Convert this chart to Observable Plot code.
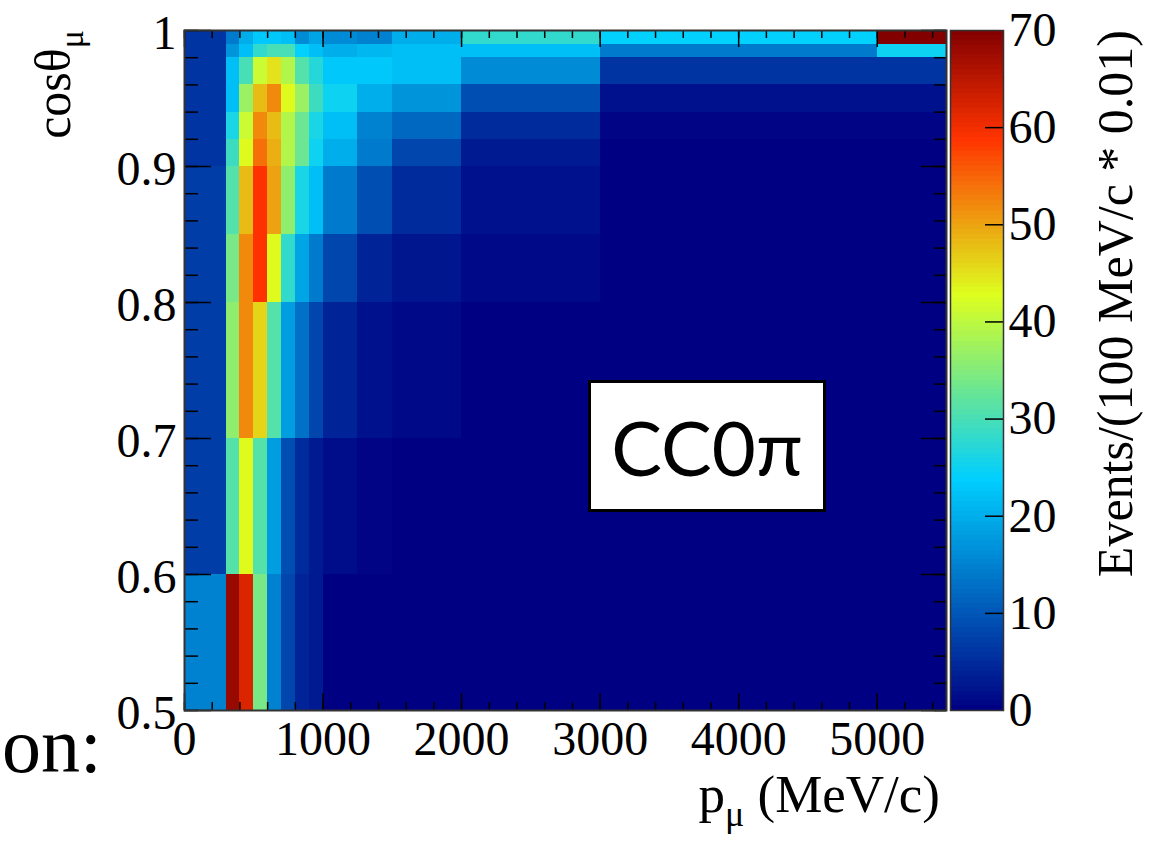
<!DOCTYPE html>
<html>
<head>
<meta charset="utf-8">
<script src="https://cdn.jsdelivr.net/npm/d3@7"></script>
<script src="https://cdn.jsdelivr.net/npm/@observablehq/plot@0.6"></script>
<style>
  html, body { margin: 0; padding: 0; background: #fff; }
  #wrap { position: relative; width: 1154px; height: 843px; overflow: hidden; background: #fff; }
  #main, #cbar { position: absolute; top: 0; }
  #main { left: 0; }
  #cbar { left: 940px; }
  #box { position: absolute; left: 588px; top: 380px; width: 232px; height: 126px;
         border: 3px solid #000; background: #fff; font-family: Lato, "Open Sans", sans-serif;
         font-size: 76px; display: flex; align-items: center; justify-content: center; color: #000; }
</style>
</head>
<body>
<div id="wrap">
  <div id="main"></div>
  <div id="cbar"></div>
  <div id="box">CC0π</div>
</div>
<script>
// ---- Data ----
// momentum bin edges (MeV/c)
const pEdges = [0, 300, 400, 500, 600, 700, 800, 900, 1000, 1250, 1500, 2000, 3000, 5000, 5500];
// cos(theta) bin edges
const cosEdges = [0.5, 0.6, 0.7, 0.8, 0.85, 0.9, 0.92, 0.94, 0.96, 0.98, 0.99, 1.0];
// events per bin, one array per cos(theta) slice (bottom to top), columns follow pEdges
const cos050_060 = [15, 68, 62, 34, 15, 8, 4, 3, 0, 0, 0, 0, 0, 0];
const cos060_070 = [7, 31, 43, 31, 18, 9, 5, 3, 1.5, 0.5, 0, 0, 0, 0];
const cos070_080 = [7, 36, 52, 46, 31, 18, 13, 8, 4, 2, 1, 0, 0, 0];
const cos080_085 = [7, 34, 52, 59, 43, 28, 19, 14, 8, 4, 2.5, 1, 0, 0];
const cos085_090 = [7, 31, 48, 59, 50, 36, 26, 22, 14, 9, 5, 2, 0, 0];
const cos090_092 = [6, 29, 43, 54, 49, 39, 33, 25, 20, 14, 8, 3, 0, 0];
const cos092_094 = [6, 26, 41, 52, 48, 39, 33, 26, 22, 15, 12, 5, 0.5, 0.5];
const cos094_096 = [6, 22, 37, 48, 52, 43, 37, 29, 25, 20, 17, 9, 2, 2];
const cos096_098 = [6, 22, 30, 41, 45, 39, 31, 27, 23, 23, 22, 16, 6, 6];
const cos098_099 = [6, 17, 22, 28, 30, 30, 24, 22, 20, 21, 22, 22, 14, 25];
const cos099_100 = [6, 14, 20, 23, 23, 22, 16, 19, 16, 15, 20, 28, 24, 70];
// tick labels
const xTicks = [0, 1000, 2000, 3000, 4000, 5000];
const yTicks = [0.5, 0.6, 0.7, 0.8, 0.9, 1.0];
const zTicks = [0, 10, 20, 30, 40, 50, 60, 70];

// ---- Build table ----
const slices = [cos050_060, cos060_070, cos070_080, cos080_085, cos085_090, cos090_092,
                cos092_094, cos094_096, cos096_098, cos098_099, cos099_100];
const cells = [];
slices.forEach((row, i) => row.forEach((v, j) => cells.push({
  p1: pEdges[j], p2: pEdges[j + 1], c1: cosEdges[i], c2: cosEdges[i + 1], v
})));

const colorScale = {
  type: "linear",
  domain: [0, 23.8, 42.7, 58.8, 70],
  range: ["rgb(0,0,130)", "rgb(0,207,255)", "rgb(222,255,31)", "rgb(255,51,0)", "rgb(130,0,0)"],
  interpolate: "rgb",
  clamp: true
};

const serif = "'Liberation Serif', 'Times New Roman', serif";
const xMinor = d3.range(0, 5500.1, 200);
const yMinor = d3.range(0.5, 1.0001, 0.02);
const W = 960, H = 843, mL = 184, mR = 14, mT = 30, mB = 133;
const fw = W - mL - mR, fh = H - mT - mB;
const LBL = 48;

const main = Plot.plot({
  width: W, height: H,
  marginLeft: mL, marginRight: mR, marginTop: mT, marginBottom: mB,
  style: { fontFamily: serif, background: "transparent", color: "#000" },
  x: { domain: [0, 5500] },
  y: { domain: [0.5, 1.0] },
  color: colorScale,
  marks: [
    Plot.rect(cells, { x1: "p1", x2: "p2", y1: "c1", y2: "c2", fill: "v", inset: 0, shapeRendering: "crispEdges" }),
    // bottom ticks
    Plot.ruleX(xMinor, { insetTop: fh - 8, stroke: "#000", strokeWidth: 1.5 }),
    Plot.ruleX(xTicks, { insetTop: fh - 17, stroke: "#000", strokeWidth: 1.5 }),
    // top ticks
    Plot.ruleX(xMinor, { insetBottom: fh - 8, stroke: "#000", strokeWidth: 1.5 }),
    Plot.ruleX(xTicks, { insetBottom: fh - 17, stroke: "#000", strokeWidth: 1.5 }),
    // left ticks
    Plot.ruleY(yMinor, { insetRight: fw - 14, stroke: "#000", strokeWidth: 1.5 }),
    Plot.ruleY(yTicks, { insetRight: fw - 27, stroke: "#000", strokeWidth: 1.5 }),
    // right ticks
    Plot.ruleY(yMinor, { insetLeft: fw - 12, stroke: "#000", strokeWidth: 1.5 }),
    Plot.ruleY(yTicks, { insetLeft: fw - 25, stroke: "#000", strokeWidth: 1.5 }),
    Plot.frame({ stroke: "#333", strokeWidth: 2 }),
    Plot.axisX({ ticks: xTicks, tickSize: 0, tickPadding: 10, fontSize: LBL, fontFamily: serif, label: null, tickFormat: d => String(d) }),
    Plot.axisY({ ticks: yTicks, tickSize: 0, tickPadding: 8, dy: 3, fontSize: LBL, fontFamily: serif, label: null, tickFormat: d => d === 1 ? "1" : d.toFixed(1) })
  ]
});
document.getElementById("main").appendChild(main);

// axis titles with subscripts
const msvg = d3.select(main);
const xt = msvg.append("text")
  .attr("x", 940).attr("y", 812)
  .attr("text-anchor", "end")
  .style("font-family", serif).style("font-size", "53px").attr("fill", "#000");
xt.append("tspan").text("p");
xt.append("tspan").attr("dy", 14).style("font-size", "36px").text("μ");
xt.append("tspan").attr("dy", -14).text(" (MeV/c)");

const yt = msvg.append("text")
  .attr("transform", "translate(70,30) rotate(-90)")
  .attr("text-anchor", "end")
  .style("font-family", serif).style("font-size", "50px").attr("fill", "#000");
yt.append("tspan").text("cosθ");
yt.append("tspan").attr("dy", 13).style("font-size", "34px").text("μ");

// stray slide text at the left edge
msvg.append("text")
  .attr("x", 2).attr("y", 772)
  .attr("text-anchor", "start")
  .style("font-family", serif).style("font-size", "78px").attr("fill", "#000")
  .text("on:");

// ---- Colour bar ----
const CW = 214, cL = 10, barW = 53;
const steps = d3.range(0, 70, 0.5);
const cbar = Plot.plot({
  width: CW, height: H,
  marginLeft: cL, marginRight: CW - cL - barW, marginTop: mT, marginBottom: mB,
  style: { fontFamily: serif, background: "transparent", color: "#000" },
  x: { domain: [0, 1], axis: null },
  y: { domain: [0, 70] },
  color: colorScale,
  marks: [
    Plot.rect(steps, { x1: 0, x2: 1, y1: d => d, y2: d => d + 0.5, fill: d => d + 0.25, inset: 0, shapeRendering: "crispEdges" }),
    Plot.ruleY(zTicks.slice(1, -1), { insetLeft: barW - 18, stroke: "#000", strokeWidth: 1.5 }),
    Plot.frame({ stroke: "#333", strokeWidth: 1.5 }),
    Plot.axisY({ anchor: "right", ticks: zTicks, tickSize: 0, tickPadding: 5, fontSize: LBL, fontFamily: serif, label: null })
  ]
});
document.getElementById("cbar").appendChild(cbar);
d3.select(cbar).append("text")
  .attr("transform", "translate(192,30) rotate(-90)")
  .attr("text-anchor", "end")
  .style("font-family", serif).style("font-size", "50px").attr("fill", "#000")
  .text("Events/(100 MeV/c * 0.01)");
</script>
</body>
</html>
